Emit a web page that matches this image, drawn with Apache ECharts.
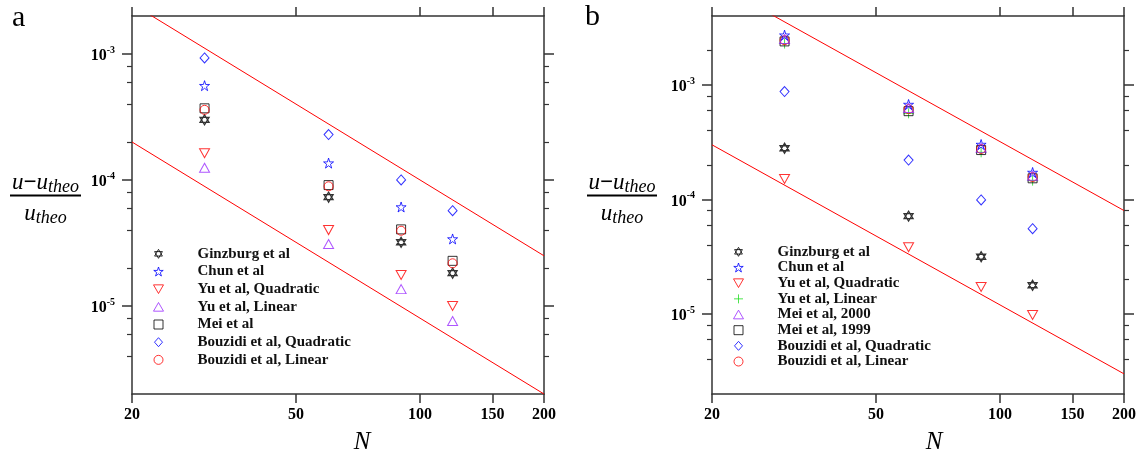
<!DOCTYPE html>
<html><head><meta charset="utf-8">
<script src="https://cdn.jsdelivr.net/npm/echarts@6/dist/echarts.min.js"></script>
<style>html,body{margin:0;padding:0;background:#fff}#chart{width:1143px;height:458px}</style>
</head><body><div id="chart"></div>
<script>
// ---------- data ----------
const N = [30, 60, 90, 120];

// panel a
const aGinzburg = [3.0e-4, 7.3e-5, 3.2e-5, 1.82e-5];
const aChun     = [5.6e-4, 1.36e-4, 6.1e-5, 3.4e-5];
const aYuQuad   = [1.63e-4, 4.0e-5, 1.76e-5, 1.0e-5];
const aYuLin    = [1.25e-4, 3.1e-5, 1.36e-5, 7.6e-6];
const aMei      = [3.7e-4, 9.1e-5, 4.05e-5, 2.28e-5];
const aBouzQuad = [9.3e-4, 2.29e-4, 1.0e-4, 5.7e-5];
const aBouzLin  = [3.6e-4, 8.9e-5, 3.95e-5, 2.18e-5];
const aRefUpper = [[20, 2.5e-3], [200, 2.5e-5]];
const aRefLower = [[20, 2.0e-4], [200, 2.0e-6]];

// panel b
const bGinzburg = [2.8e-4, 7.15e-5, 3.16e-5, 1.78e-5];
const bChun     = [2.72e-3, 6.75e-4, 3.02e-4, 1.72e-4];
const bYuQuad   = [1.51e-4, 3.83e-5, 1.72e-5, 9.8e-6];
const bYuLin    = [2.3e-3, 5.65e-4, 2.58e-4, 1.46e-4];
const bMei2000  = [2.52e-3, 6.3e-4, 2.82e-4, 1.61e-4];
const bMei1999  = [2.4e-3, 5.9e-4, 2.7e-4, 1.53e-4];
const bBouzQuad = [8.75e-4, 2.21e-4, 9.9e-5, 5.55e-5];
const bBouzLin  = [2.46e-3, 6.15e-4, 2.76e-4, 1.57e-4];
const bRefUpper = [[20, 8.0e-3], [200, 8.0e-5]];
const bRefLower = [[20, 3.0e-4], [200, 3.0e-6]];

// axes
const xRange = [20, 200];
const xTicks = [20, 50, 100, 150, 200];
const aYRange = [2e-6, 2e-3];
const bYRange = [2e-6, 4e-3];
const yMajor = [1e-5, 1e-4, 1e-3];
const aYMinor = [4e-6, 6e-6, 8e-6, 2e-5, 4e-5, 6e-5, 8e-5, 2e-4, 4e-4, 6e-4, 8e-4];
const bYMinor = [4e-6, 6e-6, 8e-6, 2e-5, 4e-5, 6e-5, 8e-5, 2e-4, 4e-4, 6e-4, 8e-4, 2e-3];

const aNames = ['Ginzburg et al', 'Chun et al', 'Yu et al, Quadratic', 'Yu et al, Linear', 'Mei et al', 'Bouzidi et al, Quadratic', 'Bouzidi et al, Linear'];
const bNames = ['Ginzburg et al', 'Chun et al', 'Yu et al, Quadratic', 'Yu et al, Linear', 'Mei et al, 2000', 'Mei et al, 1999', 'Bouzidi et al, Quadratic', 'Bouzidi et al, Linear'];

// ---------- styling ----------
const SERIF = '"Liberation Serif", "DejaVu Serif", serif';
const AX = '#333';
const SYM = {
  hexa: 'path://M5,0L9.33,7.5L0.67,7.5Z M5,10L0.67,2.5L9.33,2.5Z',
  star: 'path://M5,0L6.12,3.46L9.76,3.45L6.82,5.59L7.94,9.05L5,6.92L2.06,9.05L3.18,5.59L0.24,3.45L3.88,3.46Z',
  down: 'path://M0,0L10,0L5,8.66Z',
  up: 'path://M5,0L10,8.66L0,8.66Z',
  square: 'path://M0,0L10,0L10,10L0,10Z',
  diamond: 'path://M4,0L8,4.5L4,9L0,4.5Z',
  circle: 'path://M10,5A5,5,0,1,1,0,5A5,5,0,1,1,10,5Z',
  plus: 'path://M5,0L5,10M0,5L10,5'
};
const C = { black: '#000000', blue: '#0000ff', red: '#ff0000', purple: '#9a2cff', green: '#22dd22' };

function sc(name, vals, sym, size, color, xi, yi, bw) {
  return {
    type: 'scatter', name: name, xAxisIndex: xi, yAxisIndex: yi,
    data: N.map((n, i) => [n, vals[i]]),
    symbol: sym, symbolSize: size, silent: true,
    itemStyle: { color: 'rgba(0,0,0,0)', borderColor: color, borderWidth: bw || 1 },
    emphasis: { disabled: true }
  };
}
function refLine(pts, xi, yi) {
  return {
    type: 'line', data: pts, xAxisIndex: xi, yAxisIndex: yi, showSymbol: false, symbol: 'none',
    silent: true, clip: true, lineStyle: { color: '#ff0000', width: 1 }, z: 1
  };
}

function xAxes(gi) {
  const base = {
    type: 'log', gridIndex: gi, min: xRange[0], max: xRange[1],
    splitLine: { show: false }, minorTick: { show: false },
    axisLine: { show: true, onZero: false, lineStyle: { color: AX, width: 1.5 } },
    axisTick: { show: true, inside: false, length: 9, customValues: xTicks, lineStyle: { color: AX, width: 1.5 } }
  };
  return [
    Object.assign({}, base, {
      position: 'bottom',
      name: 'N', nameLocation: 'middle', nameGap: 36,
      nameTextStyle: { fontFamily: SERIF, fontStyle: 'italic', fontSize: 25, color: '#000', padding: [0, 0, 0, gi === 0 ? 48 : 32] },
      axisLabel: { show: true, customValues: xTicks, margin: 13, fontFamily: SERIF, fontWeight: 'bold', fontSize: 16, color: '#000', formatter: v => String(Math.round(v)) }
    }),
    Object.assign({}, base, { position: 'top', axisLabel: { show: false } })
  ];
}
function yAxes(gi, range, minor) {
  const base = {
    type: 'log', gridIndex: gi, min: range[0], max: range[1],
    splitLine: { show: false }, minorTick: { show: false }
  };
  const major = {
    axisLine: { show: true, onZero: false, lineStyle: { color: AX, width: 1.5 } },
    axisTick: { show: true, inside: false, length: 10, customValues: yMajor, lineStyle: { color: AX, width: 1.5 } }
  };
  const minorCfg = {
    axisLine: { show: false },
    axisLabel: { show: false },
    axisTick: { show: true, inside: false, length: 5, customValues: minor, lineStyle: { color: AX, width: 1.2 } }
  };
  return [
    Object.assign({}, base, major, {
      position: 'left',
      axisLabel: {
        show: true, customValues: yMajor, margin: 17,
        formatter: v => '{b|10}{s|' + Math.round(Math.log10(v)) + '}',
        rich: {
          b: { fontFamily: SERIF, fontWeight: 'bold', fontSize: 16, color: '#000', padding: [4, 0, 0, 0] },
          s: { fontFamily: SERIF, fontWeight: 'bold', fontSize: 10, color: '#000', padding: [0, 0, 8, 0] }
        }
      }
    }),
    Object.assign({}, base, minorCfg, { position: 'left' }),
    Object.assign({}, base, major, { position: 'right', axisLabel: { show: false } }),
    Object.assign({}, base, minorCfg, { position: 'right' })
  ];
}

const fracRich = {
  m: { fontFamily: SERIF, fontStyle: 'italic', fontSize: 23, color: '#000' },
  mm: { fontFamily: SERIF, fontSize: 23, fontWeight: 'bold', color: '#000' },
  s: { fontFamily: SERIF, fontStyle: 'italic', fontSize: 18, color: '#000', padding: [8, 0, 0, 0] }
};
function fraction(cx, x1, x2) {
  return [
    { type: 'text', x: cx, y: 183, silent: true, style: { text: '{m|u}{mm|−}{m|u}{s|theo}', rich: fracRich, align: 'center', verticalAlign: 'middle' } },
    { type: 'line', silent: true, shape: { x1: x1, y1: 195.5, x2: x2, y2: 195.5 }, style: { stroke: '#000', lineWidth: 1.8 } },
    { type: 'text', x: cx, y: 214, silent: true, style: { text: '{m|u}{s|theo}', rich: fracRich, align: 'center', verticalAlign: 'middle' } }
  ];
}

const legendText = (lh) => ({ fontFamily: SERIF, fontWeight: 'bold', fontSize: 15, color: '#111', lineHeight: lh, padding: [0, 0, 0, 29] });

const option = {
  animation: false,
  backgroundColor: '#ffffff',
  grid: [
    { left: 132, top: 16, width: 412, height: 378, outerBoundsMode: 'none', containLabel: false },
    { left: 712, top: 16, width: 412, height: 378, outerBoundsMode: 'none', containLabel: false }
  ],
  xAxis: [].concat(xAxes(0), xAxes(1)),
  yAxis: [].concat(yAxes(0, aYRange, aYMinor), yAxes(1, bYRange, bYMinor)),
  legend: [
    {
      orient: 'vertical', left: 153, top: 245, padding: 0, itemGap: 0,
      itemWidth: 10, itemHeight: 9, selectedMode: false, symbolKeepAspect: true,
      itemStyle: { borderWidth: 1 },
      data: aNames, textStyle: legendText(17.67)
    },
    {
      orient: 'vertical', left: 733, top: 244, padding: 0, itemGap: 0,
      itemWidth: 10, itemHeight: 9, selectedMode: false, symbolKeepAspect: true,
      itemStyle: { borderWidth: 1 },
      data: bNames.map(n => n + ' [b]'), formatter: n => n.replace(' [b]', ''),
      textStyle: legendText(15.67)
    }
  ],
  graphic: [].concat(
    [
      { type: 'text', x: 12, y: 3, silent: true, style: { text: 'a', font: '30px "Liberation Serif"', fill: '#000' } },
      { type: 'text', x: 585, y: 2, silent: true, style: { text: 'b', font: '30px "Liberation Serif"', fill: '#000' } }
    ],
    fraction(45.5, 10, 81),
    fraction(622, 587, 657)
  ),
  series: [
    refLine(aRefUpper, 0, 0),
    refLine(aRefLower, 0, 0),
    sc(aNames[0], aGinzburg, SYM.hexa, [9, 10], C.black, 0, 0, 1.3),
    sc(aNames[1], aChun, SYM.star, [10, 10], C.blue, 0, 0),
    sc(aNames[2], aYuQuad, SYM.down, [10, 9], C.red, 0, 0),
    sc(aNames[3], aYuLin, SYM.up, [10, 9], C.purple, 0, 0),
    sc(aNames[4], aMei, SYM.square, [9, 9], C.black, 0, 0),
    sc(aNames[5], aBouzQuad, SYM.diamond, [9, 10], C.blue, 0, 0),
    sc(aNames[6], aBouzLin, SYM.circle, [9, 9], C.red, 0, 0),

    refLine(bRefUpper, 2, 4),
    refLine(bRefLower, 2, 4),
    sc(bNames[0] + ' [b]', bGinzburg, SYM.hexa, [9, 10], C.black, 2, 4, 1.3),
    sc(bNames[3] + ' [b]', bYuLin, SYM.plus, [10, 10], C.green, 2, 4),
    sc(bNames[5] + ' [b]', bMei1999, SYM.square, [9, 9], C.black, 2, 4),
    sc(bNames[7] + ' [b]', bBouzLin, SYM.circle, [9, 9], C.red, 2, 4),
    sc(bNames[4] + ' [b]', bMei2000, SYM.up, [10, 9], C.purple, 2, 4),
    sc(bNames[1] + ' [b]', bChun, SYM.star, [10, 10], C.blue, 2, 4),
    sc(bNames[2] + ' [b]', bYuQuad, SYM.down, [10, 9], C.red, 2, 4),
    sc(bNames[6] + ' [b]', bBouzQuad, SYM.diamond, [9, 10], C.blue, 2, 4)
  ]
};

const chart = echarts.init(document.getElementById('chart'), null, { renderer: 'canvas' });
chart.setOption(option);
</script>
</body></html>
